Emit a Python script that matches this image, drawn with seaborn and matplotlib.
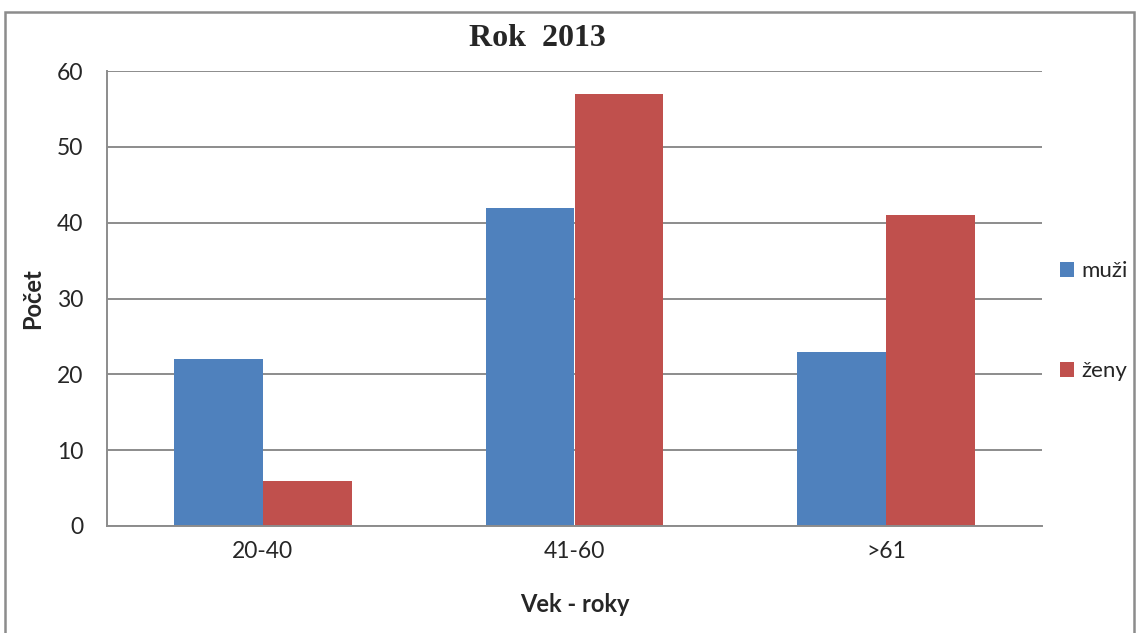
import matplotlib
matplotlib.use("Agg")
import matplotlib.pyplot as plt
import seaborn as sns
import pandas as pd
from matplotlib.patches import Rectangle

categories = ["20-40", "41-60", ">61"]
muzi = [22, 42, 23]
zeny = [6, 57, 41]
series_names = ["muži", "ženy"]
yticks = [0, 10, 20, 30, 40, 50, 60]

df = pd.DataFrame({
    "vek": categories * 2,
    "pocet": muzi + zeny,
    "pohlavie": [series_names[0]] * 3 + [series_names[1]] * 3,
})

sns.set_style("white")
plt.rcParams["font.family"] = ["Lato", "DejaVu Sans"]

fig = plt.figure(figsize=(11.37, 6.33), dpi=100)
ax = fig.add_axes([107 / 1137, 1 - 526 / 633, (1042 - 107) / 1137, (526 - 71) / 633])

sns.barplot(data=df, x="vek", y="pocet", hue="pohlavie", order=categories,
            hue_order=series_names, palette=["#4F81BD", "#C0504D"],
            saturation=1, width=0.57, ax=ax, edgecolor="none", linewidth=0)

ax.set_ylim(0, 60)
ax.set_yticks(yticks)
ax.set_xlim(-0.5, 2.5)
ax.grid(axis="y", color="#8c8c8c", linewidth=1.4)
ax.set_axisbelow(True)
for side in ["top", "right"]:
    ax.spines[side].set_visible(False)
for side in ["left", "bottom"]:
    ax.spines[side].set_color("#8c8c8c")
    ax.spines[side].set_linewidth(1.4)
ax.tick_params(axis="y", length=5, color="#8c8c8c", labelsize=16.5, pad=12)
ax.tick_params(axis="x", length=0, labelsize=16.5, pad=11)

ax.set_xlabel("Vek - roky", fontsize=17, fontweight="bold", labelpad=22)
ax.set_ylabel("Počet", fontsize=17, fontweight="bold", labelpad=9)

fig.text(537 / 1137, 1 - 38 / 633, "Rok  2013", ha="center", va="center",
         fontsize=23, fontweight="bold", family=["Liberation Serif", "DejaVu Serif"])

handles, labels = ax.get_legend_handles_labels()
ax.legend(handles, labels, loc="center left", bbox_to_anchor=(1.0, 0.45),
          frameon=False, fontsize=16, handlelength=0.65, handleheight=0.65,
          handletextpad=0.3, labelspacing=3.6, borderaxespad=0.4)

fig.patches.append(Rectangle((5 / 1137, -0.01), 1129 / 1137, 1 - 12 / 633 + 0.01,
                             transform=fig.transFigure, fill=False,
                             edgecolor="#8c8c8c", linewidth=1.8))

fig.savefig("out.png", dpi=100)
